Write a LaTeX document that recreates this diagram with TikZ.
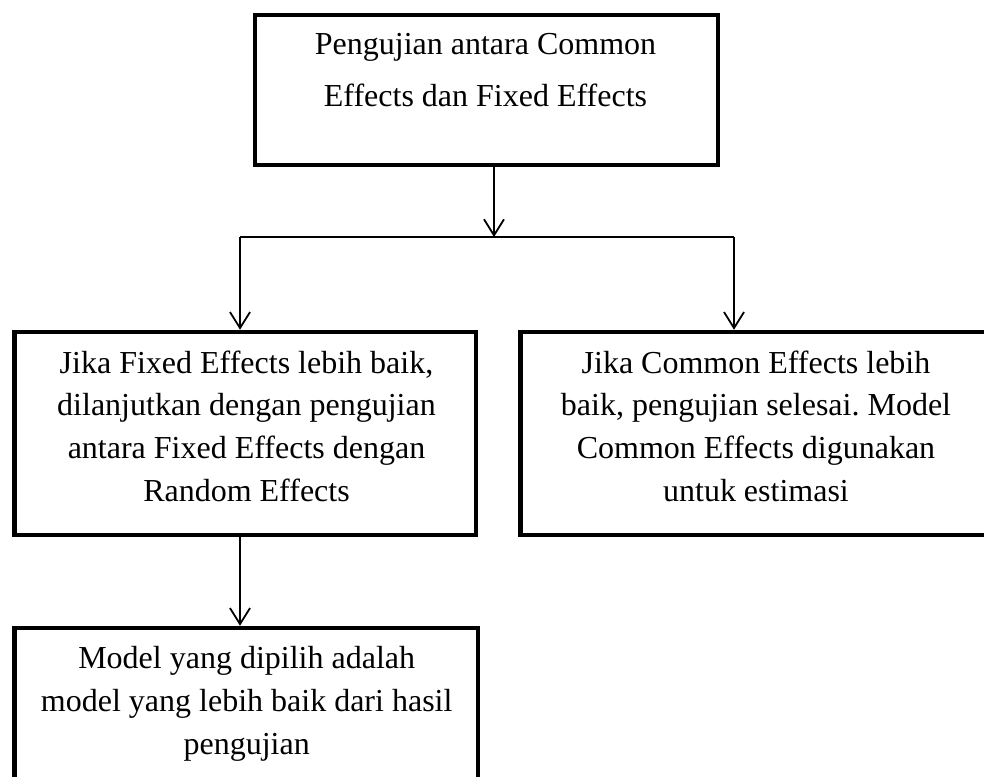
\documentclass[tikz,border=0pt]{standalone}
\usepackage{fontspec}
\setmainfont{Liberation Serif}
\frenchspacing
\usetikzlibrary{arrows.meta}
\begin{document}
\begin{tikzpicture}[x=0.5pt,y=-0.5pt,
  boxnode/.style={draw=black,line width=2.25pt,rectangle,inner sep=0pt,fill=none},
  txt/.style={inner sep=0pt,align=center,anchor=base},
  toptxt/.style={txt,font=\frenchspacing\fontsize{16pt}{26pt}\selectfont},
  midtxt/.style={txt,font=\frenchspacing\fontsize{16pt}{21.3pt}\selectfont},
  conn/.style={draw=black,line width=0.9pt},
  arr/.style={conn,-{Straight Barb[length=8pt,width=10pt,line width=0.9pt]}}]
\useasboundingbox (0,0) rectangle (984,776);
\clip (0,0) rectangle (984,776);
% boxes
\node[boxnode,minimum width=231.5pt,minimum height=75pt] (top) at (486.5,90) {};
\node[boxnode,minimum width=230.75pt,minimum height=101.5pt] (left) at (245.25,433.5) {};
\node[boxnode,minimum width=235.75pt,minimum height=101.5pt] (right) at (756.25,433.5) {};
\node[boxnode,minimum width=231.75pt,minimum height=111pt] (bottom) at (246.25,739) {};
% texts (anchor base = baseline of the last line)
\node[toptxt] (toptext) at (485.5,106) {Pengujian antara Common\\Effects dan Fixed Effects};
\node[midtxt] (lefttext) at (246.5,501) {Jika Fixed Effects lebih baik,\\dilanjutkan dengan pengujian\\antara Fixed Effects dengan\\Random Effects};
\node[midtxt] (righttext) at (756,501) {Jika Common Effects lebih\\baik, pengujian selesai. Model\\Common Effects digunakan\\untuk estimasi};
\node[midtxt] (bottomtext) at (246.7,754) {Model yang dipilih adalah\\model yang lebih baik dari hasil\\pengujian};
% connectors
\coordinate (j) at (494,237);
\coordinate (jl) at (240,237);
\coordinate (jr) at (734,237);
\draw[arr] (top.south -| j) -- (j);
\draw[conn] (jl) -- (jr);
\draw[arr] (jl) -- (left.north -| jl);
\draw[arr] (jr) -- (right.north -| jr);
\draw[arr] (left.south -| jl) -- (bottom.north -| jl);
\end{tikzpicture}
\end{document}
